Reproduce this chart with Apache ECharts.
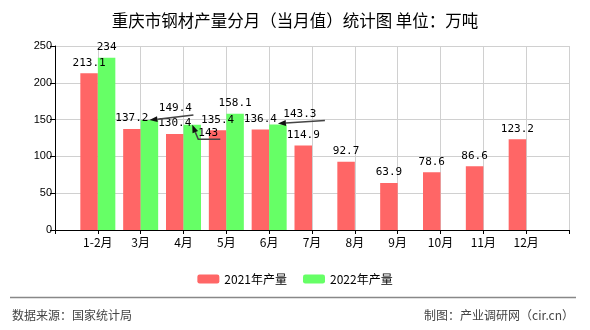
<!DOCTYPE html>
<html><head><meta charset="utf-8">
<script src="https://cdn.jsdelivr.net/npm/echarts@6/dist/echarts.min.js"></script>
<style>html,body{margin:0;padding:0;background:#fff}#c{width:590px;height:330px}</style>
</head><body><div id="c"></div>
<script>
const categories = ['1-2月','3月','4月','5月','6月','7月','8月','9月','10月','11月','12月'];
const output2021 = [213.1,137.2,130.4,135.4,136.4,114.9,92.7,63.9,78.6,86.6,123.2];
const output2022 = [234,149.4,143,158.1,143.3,null,null,null,null,null,null];
const seriesNames = ['2021年产量','2022年产量'];
const yTicks = [0,50,100,150,200,250];
const calloutIdx = [1,2,4];

// styling only: callout leader-line offsets (px) from the bar top centre
const calloutStyle = {
  1: {pts:[[0,0],[44,-5]], text:[26,-12]},
  2: {pts:[[0,0],[6,14.5],[28,14.5]], text:[16,8]},
  4: {pts:[[0,-1],[47,-4]], text:[22,-10]}
};
const BAR_W = 17.5;
const COLORS = ['#FF6666','#66FF66'];
const MONO = '"DejaVu Sans Mono","Liberation Mono",monospace';
const CJK = '"Noto Sans CJK SC","Liberation Sans",sans-serif';

const axisCats = [''].concat(categories, ['']);
const pad = a => [null].concat(a, [null]);

const chart = echarts.init(document.getElementById('c'));
const labelBase = {show:true, position:'top', distance:5, color:'#000', fontSize:11, fontFamily:MONO};

const greenData = pad(output2022.map((v,i)=> v==null ? null : {value:v, label:{show: calloutIdx.indexOf(i) < 0}}));

chart.setOption({
  animation:false,
  title:{text:'重庆市钢材产量分月（当月值）统计图 单位：万吨', left:'center', top:7,
    textStyle:{fontSize:16.5, fontWeight:'normal', color:'#000', fontFamily:CJK}},
  legend:{data:seriesNames, top:268, left:'center', itemWidth:22, itemHeight:9, itemGap:16,
    textStyle:{fontSize:12, color:'#000', fontFamily:CJK}},
  grid:{left:55, right:21, top:46, bottom:100},
  xAxis:{type:'category', boundaryGap:false, data:axisCats,
    axisLine:{lineStyle:{color:'#000'}},
    axisTick:{show:true, length:4, interval:0, lineStyle:{color:'#000'}},
    axisLabel:{interval:0, color:'#000', fontSize:12, margin:6, fontFamily:CJK},
    splitLine:{show:true, interval:0, lineStyle:{color:'#d0d0d0'}}},
  yAxis:{type:'value', min:yTicks[0], max:yTicks[yTicks.length-1], interval:yTicks[1]-yTicks[0],
    axisLine:{show:true, lineStyle:{color:'#000'}},
    axisTick:{show:true, length:5, lineStyle:{color:'#000'}},
    axisLabel:{color:'#000', fontSize:11, margin:3, fontFamily:'"Liberation Sans",Arial,sans-serif'},
    splitLine:{lineStyle:{color:'#d0d0d0'}}},
  series:[
    {name:seriesNames[0], type:'bar', data:pad(output2021), barWidth:BAR_W, barGap:'0%',
      itemStyle:{color:COLORS[0]}, label:labelBase},
    {name:seriesNames[1], type:'bar', data:greenData, barWidth:BAR_W, barGap:'0%',
      itemStyle:{color:COLORS[1]}, label:labelBase},
    {type:'custom', z:10, silent:true,
      data: calloutIdx.map(i => [i+1, output2022[i], i]),
      renderItem:function(params, api){
        const idx = api.value(2);
        const p = api.coord([api.value(0), api.value(1)]);
        const cx = p[0] + BAR_W/2, cy = p[1];
        const st = calloutStyle[idx];
        const pts = st.pts.map(q => [cx+q[0], cy+q[1]]);
        const a = pts[0], b = pts[1];
        const dx = a[0]-b[0], dy = a[1]-b[1];
        const len = Math.sqrt(dx*dx+dy*dy);
        const ux = dx/len, uy = dy/len;
        const L = 8, W = 3;
        const base = [a[0]-ux*L, a[1]-uy*L];
        const tri = [a, [base[0]-uy*W, base[1]+ux*W], [base[0]+uy*W, base[1]-ux*W]];
        return {type:'group', children:[
          {type:'polyline', shape:{points:[base].concat(pts.slice(1))}, style:{stroke:'#444', lineWidth:1.5, fill:null}},
          {type:'polygon', shape:{points:tri}, style:{fill:'#111'}},
          {type:'text', style:{text:String(api.value(1)), x:cx+st.text[0], y:cy+st.text[1],
            align:'center', verticalAlign:'middle', fill:'#000', font:'11px '+MONO}}
        ]};
      }}
  ],
  graphic:[
    {type:'line', shape:{x1:10, y1:297.5, x2:576, y2:297.5}, style:{stroke:'#888', lineWidth:1.5}},
    {type:'text', left:12, top:309, style:{text:'数据来源：国家统计局', fill:'#444', font:'12px '+CJK}},
    {type:'text', right:16, top:309, style:{text:'制图：产业调研网（cir.cn）', fill:'#444', font:'12px '+CJK}}
  ]
});
</script></body></html>
